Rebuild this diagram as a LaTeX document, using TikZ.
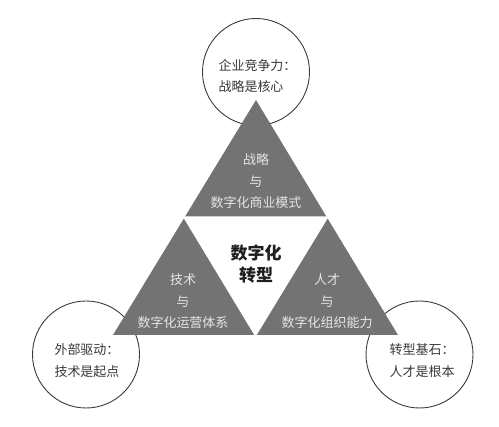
\documentclass[tikz,border=0pt]{standalone}
\usepackage{fontspec}
\usepackage{tikz}
\usetikzlibrary{positioning}
\usetikzlibrary{calc}
\newfontfamily\cjk{Noto Sans CJK SC}
\definecolor{wedgegray}{HTML}{737373}
\definecolor{ringgray}{HTML}{3a3a3a}
\tikzset{
  ring/.style      = { circle, draw=ringgray, line width=0.9pt, minimum size=107pt, inner sep=0pt },
  note/.style      = { font=\cjk\fontsize{13}{21.5}\selectfont, text=black!78, align=left, inner sep=0pt },
  wedge/.style     = { fill=wedgegray },
  gap/.style       = { fill=white, draw=white, line width=2pt, line join=miter },
  wedgetext/.style = { font=\cjk\fontsize{13}{21.5}\selectfont, text=black!10, align=center, inner sep=0pt },
  core/.style      = { font=\cjk\bfseries\fontsize{17}{22}\selectfont, text=black!88, align=center, inner sep=0pt },
}

\begin{document}
\begin{tikzpicture}[x=1pt,y=-1pt]
  \useasboundingbox (0,0) rectangle (499,427);

  \node (ringtop)   [ring] at (256,72)    {};
  \node (ringleft)  [ring] at (86,354.5)  {};
  \node (ringright) [ring] at (419.5,354.5) {};

  \coordinate (apex)  at (256,100);
  \coordinate (baseL) at (113,335);
  \coordinate (baseR) at (398,335);
  \coordinate (midL)  at ($ (apex)!.5!(baseL) $);
  \coordinate (midR)  at ($ (apex)!.5!(baseR) $);
  \coordinate (midB)  at ($ (baseL)!.5!(baseR) $);

  \fill [wedge] (apex) -- (baseR) -- (baseL) -- cycle;
  \filldraw [gap] (midL) -- (midR) -- (midB) -- cycle;

  \node (notetop)   [note] at (257.5,76)  {企业竞争力：\\战略是核心};
  \node (noteleft)  [note] at (87,360.5)  {外部驱动：\\技术是起点};
  \node (noteright) [note] at (422,360.5) {转型基石：\\人才是根本};

  \node (strategy) [wedgetext] at (256,181.5) {战略\\与\\数字化商业模式};
  \node (tech)     [wedgetext] at (183,301.5) {技术\\与\\数字化运营体系};
  \node (talent)   [wedgetext] at (327,301.5) {人才\\与\\数字化组织能力};

  \node (center) [core] at (256,264) {数字化\\转型};

\end{tikzpicture}
\end{document}
